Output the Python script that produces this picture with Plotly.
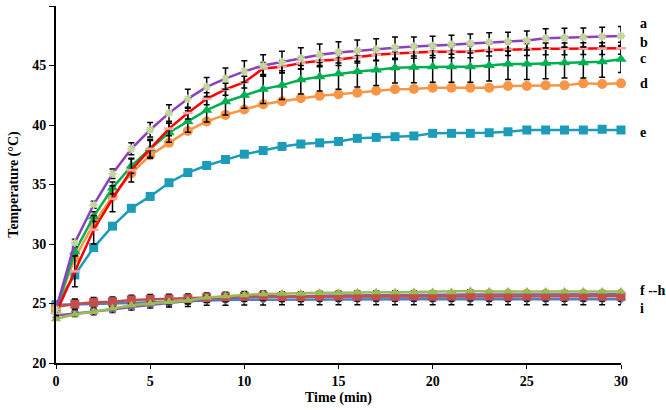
import plotly.graph_objects as go

time = list(range(31))

# High-temperature series (a-e)
a_vals = [24.5, 30.1, 33.3, 35.9, 38.0, 39.6, 41.0, 42.2, 43.2, 43.9, 44.5, 45.0, 45.3, 45.6, 45.9, 46.1,
          46.25, 46.35, 46.5, 46.6, 46.65, 46.75, 46.85, 46.95, 47.0, 47.1, 47.28, 47.33, 47.36, 47.42, 47.48]
b_vals = [24.2, 27.7, 31.2, 33.8, 36.2, 38.0, 39.7, 41.0, 42.2, 43.0, 43.6, 44.75, 44.9, 45.2, 45.4, 45.5,
          45.7, 45.9, 46.0, 46.1, 46.15, 46.15, 46.15, 46.3, 46.35, 46.35, 46.4, 46.4, 46.42, 46.42, 46.45]
c_vals = [24.4, 29.35, 32.3, 34.7, 36.55, 38.0, 39.35, 40.3, 41.25, 41.95, 42.5, 43.0, 43.35, 43.8, 44.05, 44.3,
          44.5, 44.62, 44.82, 44.85, 44.9, 44.9, 44.9, 45.0, 45.13, 45.13, 45.18, 45.24, 45.24, 45.32, 45.52]
d_vals = [24.6, 28.8, 31.7, 34.0, 35.94, 37.45, 38.5, 39.5, 40.3, 40.85, 41.3, 41.75, 42.0, 42.25, 42.45, 42.58,
          42.72, 42.88, 43.0, 43.03, 43.14, 43.14, 43.14, 43.14, 43.28, 43.28, 43.33, 43.33, 43.5, 43.45, 43.5]
e_vals = [24.9, 27.4, 29.7, 31.5, 33.0, 34.0, 35.15, 36.0, 36.6, 37.1, 37.55, 37.85, 38.2, 38.4, 38.5, 38.62,
          38.88, 38.96, 39.02, 39.08, 39.3, 39.3, 39.3, 39.35, 39.43, 39.58, 39.58, 39.58, 39.58, 39.64, 39.58]

# Low-temperature series (f-h, i)
f_vals = [24.7, 24.95, 25.1, 25.15, 25.3, 25.35, 25.38, 25.4, 25.49, 25.55, 25.6, 25.65, 25.57, 25.57, 25.6, 25.62,
          25.6, 25.62, 25.6, 25.62, 25.6, 25.62, 25.63, 25.62, 25.6, 25.62, 25.62, 25.6, 25.62, 25.6, 25.6]
g_vals = [23.7, 24.1, 24.3, 24.6, 24.85, 25.0, 25.15, 25.25, 25.5, 25.63, 25.72, 25.8, 25.85, 25.85, 25.9, 25.9,
          25.95, 25.95, 25.95, 25.97, 25.97, 25.97, 26.05, 26.0, 26.0, 26.0, 26.0, 26.0, 26.0, 26.0, 26.0]
h_vals = [24.0, 24.15, 24.3, 24.5, 24.7, 24.9, 25.05, 25.2, 25.35, 25.45, 25.5, 25.55, 25.6, 25.62, 25.65, 25.68,
          25.7, 25.7, 25.72, 25.72, 25.74, 25.74, 25.76, 25.76, 25.76, 25.77, 25.77, 25.78, 25.78, 25.78, 25.78]
i_vals = [24.9, 24.9, 24.95, 25.0, 25.05, 25.1, 25.15, 25.2, 25.3, 25.3, 25.32, 25.33, 25.34, 25.35, 25.35, 25.35,
          25.35, 25.35, 25.35, 25.35, 25.35, 25.35, 25.35, 25.35, 25.35, 25.35, 25.35, 25.35, 25.35, 25.35, 25.35]

# Error bars (standard deviation)
a_err = [0.2, 0.3, 0.3, 0.4, 0.5, 0.6, 0.7, 0.8, 0.8, 0.9, 0.9, 0.9, 0.9, 0.9, 0.9, 0.9,
         0.9, 0.9, 0.9, 0.8, 0.8, 0.8, 0.8, 0.8, 0.8, 0.8, 0.8, 0.8, 0.8, 0.8, 0.8]
b_err = [0.2, 1.3, 1.2, 1.1, 1.0, 0.8, 0.6, 0.5, 0.5, 0.5, 0.5, 0.5, 0.5, 0.5, 0.5, 0.5,
         0.5, 0.5, 0.5, 0.5, 0.5, 0.5, 0.5, 0.5, 0.5, 0.5, 0.5, 0.5, 0.5, 0.5, 0.5]
c_err = [0.2, 0.3, 0.4, 0.5, 0.6, 0.7, 0.8, 0.9, 1.0, 1.1, 1.1, 1.2, 1.2, 1.2, 1.2, 1.3,
         1.3, 1.3, 1.3, 1.3, 1.3, 1.3, 1.3, 1.3, 1.3, 1.3, 1.3, 1.3, 1.3, 1.3, 1.1]
d_err = [0.2] * 31
e_err = [0.25] * 31
f_err = [0.1] + [0.4] * 30
g_err = [0.1] * 31
h_err = [0.1] + [0.25] * 30
i_err = [0.1] + [0.45] * 30

label_texts = ["a", "b", "c", "d", "e", "f --h", "i"]
label_y = [48.57, 46.97, 45.63, 43.45, 39.33, 26.13, 24.62]

fig = go.Figure()

def add(y, err, color, symbol, msize, mcolor, name, mline=None):
    marker = dict(symbol=symbol, size=msize, color=mcolor)
    if mline:
        marker["line"] = mline
    fig.add_trace(go.Scatter(
        x=time, y=y, mode="lines+markers", name=name,
        line=dict(color=color, width=2.5),
        marker=marker,
        error_y=dict(type="data", array=err, visible=True, color="black", thickness=1.5, width=3),
        cliponaxis=False,
    ))

# low series
add(i_vals, i_err, "#4F81BD", "diamond", 7, "#4F81BD", "i")
add(h_vals, h_err, "#8064A2", "x", 7, "#8064A2", "h")
add(f_vals, f_err, "#C0504D", "square", 9, "#C0504D", "f")
add(g_vals, g_err, "#9BBB59", "triangle-up", 9, "#9BBB59", "g")

# high series
add(e_vals, e_err, "#1C9CB8", "square", 9, "#1C9CB8", "e")
add(d_vals, d_err, "#F79646", "circle", 10, "#F79646", "d")
add(c_vals, c_err, "#00B050", "triangle-up", 10, "#00B050", "c")
add(b_vals, b_err, "#FF0000", "line-ew-open", 7, "#F4A6A6", "b", mline=dict(color="#F4A6A6", width=2.5))
add(a_vals, a_err, "#8E3FC0", "asterisk-open", 7, "#C3D69B", "a", mline=dict(color="#C3D69B", width=1.8))

for t, yv in zip(label_texts, label_y):
    fig.add_annotation(x=1.03, y=yv, xref="paper", yref="y", text=t, showarrow=False,
                       xanchor="left", yanchor="middle",
                       font=dict(family="Liberation Serif", size=14, color="black", weight="bold"))

axis_font = dict(family="Liberation Serif", size=14, color="black", weight="bold")
fig.update_layout(
    width=666, height=410,
    margin=dict(l=56, r=45, t=6, b=47),
    paper_bgcolor="white", plot_bgcolor="white",
    showlegend=False,
    xaxis=dict(range=[0, 30], tickvals=[0, 5, 10, 15, 20, 25, 30], showgrid=False, zeroline=False,
               showline=True, linecolor="black", linewidth=2, ticks="outside", ticklen=4,
               tickcolor="black", tickfont=axis_font,
               title=dict(text="Time (min)", font=axis_font, standoff=4)),
    yaxis=dict(range=[20, 50], tickvals=[20, 25, 30, 35, 40, 45, 50], showgrid=False, zeroline=False,
               showline=True, linecolor="black", linewidth=2, ticks="outside", ticklen=5,
               tickcolor="black", tickfont=axis_font,
               title=dict(text="Temperature (°C)", font=axis_font, standoff=10)),
)

fig.write_html("out.html", config={"displayModeBar": False},
               post_script="document.body.style.margin='0';")
